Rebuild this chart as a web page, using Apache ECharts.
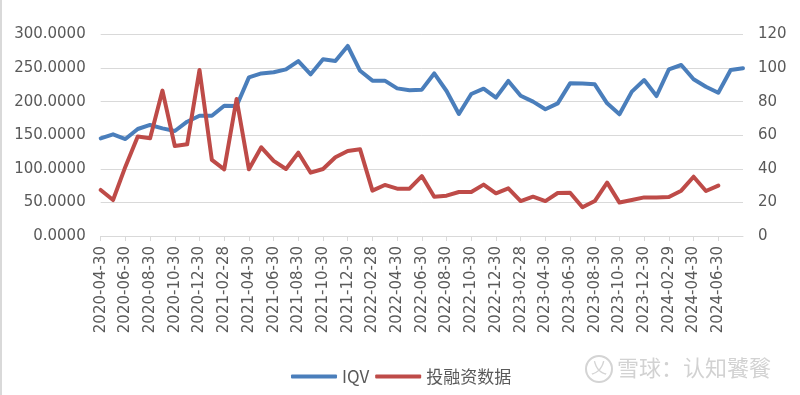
<!DOCTYPE html>
<html>
<head>
<meta charset="utf-8">
<script src="https://cdn.jsdelivr.net/npm/echarts@6/dist/echarts.min.js"></script>
<style>html,body{margin:0;padding:0;background:#fff;}#main{width:800px;height:395px;}</style>
</head>
<body>
<div id="main"></div>
<script>
const categories = [
  '2020-04-30','2020-05-30','2020-06-30','2020-07-30','2020-08-30','2020-09-30','2020-10-30','2020-11-30','2020-12-30',
  '2021-01-30','2021-02-28','2021-03-30','2021-04-30','2021-05-30','2021-06-30','2021-07-30','2021-08-30','2021-09-30','2021-10-30','2021-11-30','2021-12-30',
  '2022-01-30','2022-02-28','2022-03-30','2022-04-30','2022-05-30','2022-06-30','2022-07-30','2022-08-30','2022-09-30','2022-10-30','2022-11-30','2022-12-30',
  '2023-01-30','2023-02-28','2023-03-30','2023-04-30','2023-05-30','2023-06-30','2023-07-30','2023-08-30','2023-09-30','2023-10-30','2023-11-30','2023-12-30',
  '2024-01-30','2024-02-29','2024-03-30','2024-04-30','2024-05-30','2024-06-30','2024-07-30','2024-08-30'
];
const iqvValues = [
  145.4, 151.4, 144.4, 159.3, 165.3, 160.3, 156.3, 170.2, 179.1,
  179.0, 194.0, 193.5, 236.2, 242.0, 243.7, 248.0, 260.5, 240.7, 263.0, 260.5, 282.9,
  246.0, 231.3, 231.3, 219.8, 216.9, 217.9, 242.0, 215.9, 181.6, 211.4, 219.3, 206.0,
  230.8, 208.9, 200.0, 188.6, 197.5, 227.3, 227.0, 225.8, 197.5, 181.2, 214.9, 232.2,
  208.4, 248.1, 254.6, 233.3, 222.3, 213.3, 247.1, 249.6
];
const financingValues = [
  27.4, 21.4, 41.3, 59.2, 58.2, 86.6, 53.6, 54.6, 98.9,
  45.3, 39.7, 81.6, 39.7, 52.8, 44.7, 39.9, 49.6, 37.7, 39.9, 46.9, 50.6,
  51.6, 27.0, 30.4, 28.2, 28.2, 35.7, 23.4, 24.0, 26.2, 26.2, 30.6, 25.4,
  28.4, 20.8, 23.4, 20.8, 25.6, 25.8, 17.1, 20.8, 31.8, 19.9, 21.4, 23.0,
  23.0, 23.2, 27.0, 35.3, 26.8, 30.0, null, null
];
const seriesNames = ['IQV', '投融资数据'];
const leftTicks = { min: 0, max: 300, interval: 50 };
const rightTicks = { min: 0, max: 120, interval: 20 };

const chart = echarts.init(document.getElementById('main'), null, { renderer: 'canvas' });
const labelColor = '#595959';
const gridColor = '#d9d9d9';
const lastIdx = categories.length - 1;
const showTick = (i) => i % 2 === 0 && i < lastIdx;
chart.setOption({
  animation: false,
  backgroundColor: '#ffffff',
  grid: { left: 100.7, right: 57, top: 34.5, bottom: 159, containLabel: false },
  legend: {
    data: [
      { name: seriesNames[0], icon: 'roundRect' },
      { name: seriesNames[1], icon: 'roundRect' }
    ],
    left: 286, top: 363,
    itemWidth: 46, itemHeight: 4, itemGap: 6,
    textStyle: { color: labelColor, fontSize: 17, fontFamily: "'Liberation Sans Narrow', 'Noto Sans CJK SC', sans-serif" }
  },
  xAxis: {
    type: 'category',
    data: categories,
    boundaryGap: false,
    axisLine: { lineStyle: { color: gridColor, width: 1 } },
    axisTick: { show: true, interval: showTick, length: 5, lineStyle: { color: gridColor } },
    axisLabel: { interval: showTick, rotate: 90, margin: 10, color: labelColor, fontSize: 15, fontFamily: "'DejaVu Sans', sans-serif" },
    splitLine: { show: false }
  },
  yAxis: [
    {
      type: 'value', min: leftTicks.min, max: leftTicks.max, interval: leftTicks.interval,
      axisLine: { show: false }, axisTick: { show: false },
      axisLabel: { margin: 15, color: labelColor, fontSize: 15, fontFamily: "'DejaVu Sans', sans-serif",
        formatter: v => v.toFixed(4) },
      splitLine: { lineStyle: { color: gridColor, width: 1 } }
    },
    {
      type: 'value', min: rightTicks.min, max: rightTicks.max, interval: rightTicks.interval,
      axisLine: { show: false }, axisTick: { show: false },
      axisLabel: { margin: 15, color: labelColor, fontSize: 15, fontFamily: "'DejaVu Sans', sans-serif" },
      splitLine: { show: false }
    }
  ],
  series: [
    {
      name: seriesNames[0], type: 'line', yAxisIndex: 0, data: iqvValues,
      showSymbol: false, symbol: 'none',
      lineStyle: { color: '#4A7EBB', width: 4, join: 'round', cap: 'round' },
      itemStyle: { color: '#4A7EBB' }
    },
    {
      name: seriesNames[1], type: 'line', yAxisIndex: 1, data: financingValues,
      showSymbol: false, symbol: 'none',
      lineStyle: { color: '#BE4B48', width: 4, join: 'round', cap: 'round' },
      itemStyle: { color: '#BE4B48' }
    }
  ],
  graphic: [
    { type: 'rect', left: 0, top: 0, shape: { width: 2, height: 395 }, style: { fill: '#d9d9d9' }, silent: true },
    { type: 'circle', shape: { cx: 599, cy: 369, r: 13 }, style: { fill: 'none', stroke: '#d4d4d4', lineWidth: 2 }, silent: true },
    { type: 'text', left: 591, top: 359, style: { text: '乂', fill: '#d4d4d4', font: "16px 'Noto Sans CJK SC'" }, silent: true },
    { type: 'text', left: 617, top: 357, style: { text: '雪球：认知饕餮', fill: '#d2d2d2', font: "22px 'Noto Sans CJK SC'" }, silent: true }
  ]
});
</script>
</body>
</html>
